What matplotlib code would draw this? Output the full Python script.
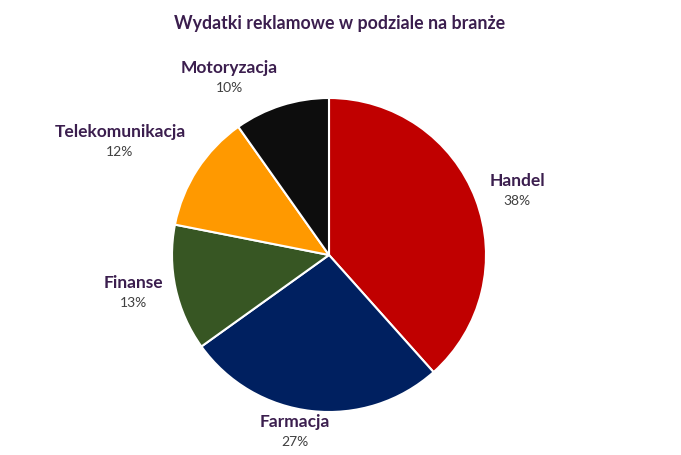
import numpy as np
import matplotlib.pyplot as plt

categories = ["Handel", "Farmacja", "Finanse", "Telekomunikacja", "Motoryzacja"]
shares = [38.4, 26.7, 13.0, 12.1, 9.8]
colors = ["#C00000", "#002060", "#375623", "#FF9900", "#0D0D0D"]

# label anchor points in pixels (name line), measured from the layout
label_px = [(517, 181), (295, 422), (133, 283), (120, 132), (229, 68)]

plt.rcParams["font.family"] = ["Lato", "DejaVu Sans"]
W, H = 681, 455
cx, cy, R = 329, 255, 157

fig = plt.figure(figsize=(W / 100, H / 100), dpi=100)
ax = fig.add_axes([(cx - R) / W, (H - cy - R) / H, 2 * R / W, 2 * R / H])
ax.pie(shares, colors=colors, startangle=90, counterclock=False,
       wedgeprops=dict(edgecolor="white", linewidth=1.5))
ax.set_xlim(-1, 1)
ax.set_ylim(-1, 1)
ax.set_aspect("equal")

for name, val, (px, py) in zip(categories, shares, label_px):
    x = (px - cx) / R
    y = (cy - py) / R
    ax.text(x, y, name, ha="center", va="center", fontsize=12.5,
            fontweight="bold", color="#3B1E4E", clip_on=False)
    ax.text(x, y - 20 / R, f"{round(val)}%", ha="center", va="center",
            fontsize=10, color="#404040", clip_on=False)

fig.text(340 / W, 1 - 23 / H, "Wydatki reklamowe w podziale na branże",
         ha="center", va="center", fontsize=12.8, fontweight="bold", color="#3B1E4E")

fig.savefig("out.png", dpi=100)
